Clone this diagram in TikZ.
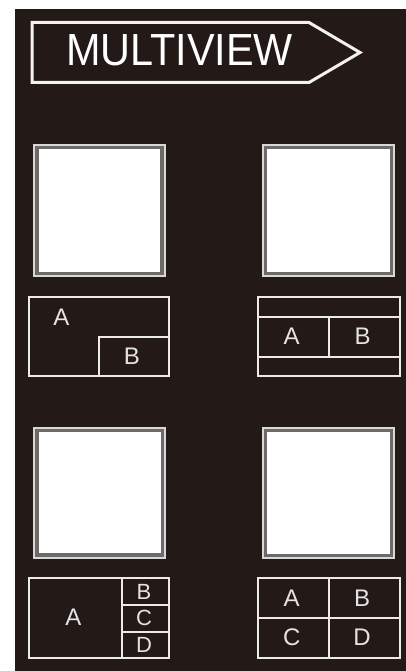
\documentclass[tikz,border=0pt]{standalone}
\usepackage{fontspec}
\usepackage{graphicx}
\setmainfont{Liberation Sans}
\definecolor{panel}{HTML}{231916}
\definecolor{framegray}{HTML}{6E6A68}
\definecolor{framelight}{HTML}{D8D8D8}
\definecolor{lettergray}{HTML}{E4E4E4}
\tikzset{
  screenframe/.style={fill=framegray, draw=framelight, line width=2pt},
  screeninner/.style={fill=white, draw=none},
  layoutline/.style={draw=white!92!black, line width=2pt},
  letter/.style={text=lettergray, font=\fontsize{24}{24}\selectfont, inner sep=0pt},
  smallletter/.style={text=lettergray, font=\fontsize{22}{22}\selectfont, inner sep=0pt},
  titlebox/.style={draw=white!95!black, line width=3pt, line join=miter}
}
\begin{document}
\begin{tikzpicture}[x=1pt,y=-1pt]
\useasboundingbox (0,0) rectangle (406,671);
\fill[white] (0,0) rectangle (406,671);
\fill[panel] (15,9) rectangle (406,671);

% title arrow
\draw[titlebox] (32,22.5) -- (309,22.5) -- (360,52.5) -- (309,82.5) -- (32,82.5) -- cycle;
\node[text=white, inner sep=0pt, font=\fontsize{45}{45}\selectfont] (title) at (179.5,50.5) {\scalebox{0.92}[1]{MULTIVIEW}};

% screens
\draw[screenframe] (34.3,145) rectangle (164.5,276);
\fill[screeninner] (38.5,149.5) rectangle (160.3,271.8);
\draw[screenframe] (262.5,145) rectangle (394.3,276);
\fill[screeninner] (266.7,149.5) rectangle (390.2,271.8);
\draw[screenframe] (34.3,427.5) rectangle (164.8,557.5);
\fill[screeninner] (38.5,432) rectangle (160.6,553.3);
\draw[screenframe] (262.5,427.5) rectangle (394.3,558.3);
\fill[screeninner] (266.7,432) rectangle (390.2,554);

% layout 1: picture in picture
\draw[layoutline] (29.3,297) rectangle (169,376);
\draw[layoutline] (98.5,337) rectangle (169,376);
\node[letter] (l1a) at (61.5,317) {A};
\node[letter] (l1b) at (132,356) {B};

% layout 2: side by side with bars
\draw[layoutline] (257.5,296.7) rectangle (400,376);
\draw[layoutline] (257.5,316.5) -- (400,316.5);
\draw[layoutline] (257.5,356.5) -- (400,356.5);
\draw[layoutline] (329,316.5) -- (329,356.5);
\node[letter] (l2a) at (291.7,336.5) {A};
\node[letter] (l2b) at (362.7,336.5) {B};

% layout 3: one large plus three small
\draw[layoutline] (29.3,578.3) rectangle (169,657.5);
\draw[layoutline] (121.7,578.3) -- (121.7,657.5);
\draw[layoutline] (121.7,604.5) -- (169,604.5);
\draw[layoutline] (121.7,631.5) -- (169,631.5);
\node[letter] (l3a) at (73.3,617.5) {A};
\node[smallletter] (l3b) at (144,591.5) {B};
\node[smallletter] (l3c) at (144,618.3) {C};
\node[smallletter] (l3d) at (144,644.5) {D};

% layout 4: quad
\draw[layoutline] (257.5,578.3) rectangle (400,657.5);
\draw[layoutline] (257.5,618.3) -- (400,618.3);
\draw[layoutline] (329,578.3) -- (329,657.5);
\node[letter] (l4a) at (291.7,598.3) {A};
\node[letter] (l4b) at (362,598.3) {B};
\node[letter] (l4c) at (291.7,637) {C};
\node[letter] (l4d) at (362,637) {D};
\end{tikzpicture}
\end{document}
